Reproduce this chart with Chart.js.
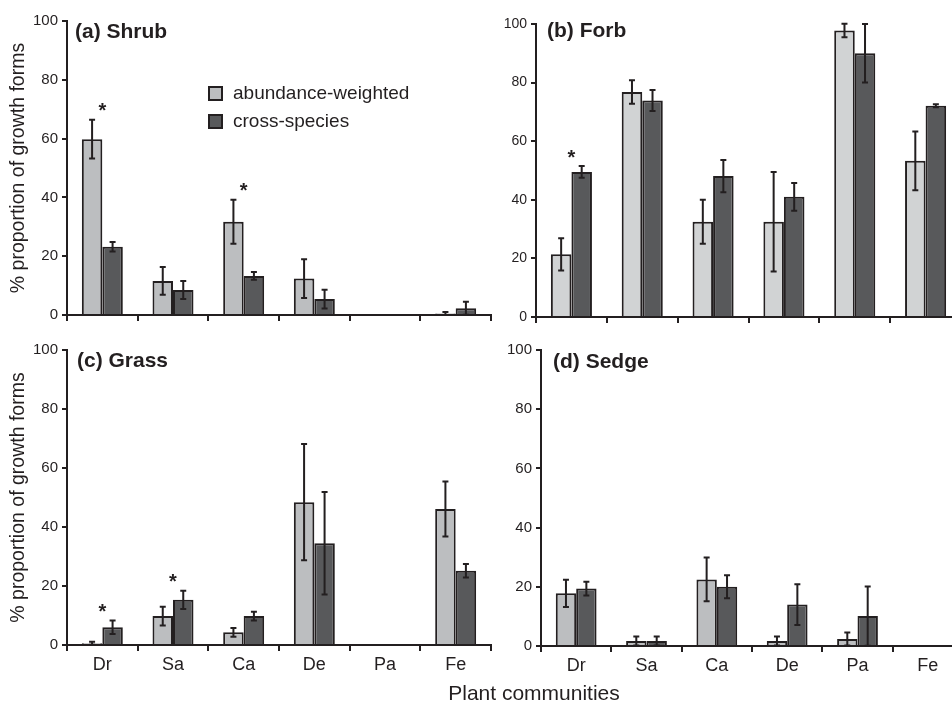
<!DOCTYPE html>
<html>
<head>
<meta charset="utf-8">
<script src="https://cdn.jsdelivr.net/npm/chart.js@4.4.1/dist/chart.umd.min.js"></script>
<style>
    html, body { margin: 0; padding: 0; background: #fff; }
    body { position: relative; width: 952px; height: 704px; overflow: hidden; font-family: "Liberation Sans", Arial, sans-serif; color: #231f20; }
    canvas { position: absolute; }
    .legend { position: absolute; left: 208px; top: 79px; font-size: 19px; }
    .legend div { display: flex; align-items: center; height: 28px; }
    .legend span.box { width: 11px; height: 11px; border: 2px solid #231f20; margin-right: 10px; }
    .xtitle { position: absolute; left: 0; width: 1068px; top: 681px; text-align: center; font-size: 21px; }
</style>
</head>
<body>
<canvas id="shrubChart" width="500" height="340" style="left:0;top:0"></canvas>
<canvas id="forbChart" width="490" height="342" style="left:480px;top:0"></canvas>
<canvas id="grassChart" width="500" height="360" style="left:0;top:330px"></canvas>
<canvas id="sedgeChart" width="492" height="360" style="left:480px;top:330px"></canvas>
<div class="legend" id="legend"></div>
<div class="xtitle">Plant communities</div>

<script>
// Plant communities (x categories)
const communities = ['Dr', 'Sa', 'Ca', 'De', 'Pa', 'Fe'];
const seriesLabels = ['abundance-weighted', 'cross-species'];
const yTicks = [0, 20, 40, 60, 80, 100];

// (a) Shrub
const shrubAbund = [59.8, 11.6, 31.7, 12.4, 0, 0.5];
const shrubAbundErr = [6.6, 4.7, 7.5, 6.6, 0, 0.5];
const shrubCross = [23.2, 8.5, 13.3, 5.4, 0, 2.3];
const shrubCrossErr = [1.6, 3.1, 1.3, 3.2, 0, 2.2];
const shrubSig = [true, false, true, false, false, false];

// (b) Forb
const forbAbund = [21.4, 76.8, 32.5, 32.5, 97.8, 53.3];
const forbAbundErr = [5.5, 4.0, 7.5, 17.0, 2.3, 10.0];
const forbCross = [49.5, 73.9, 48.1, 41.0, 90.0, 72.1];
const forbCrossErr = [2.0, 3.6, 5.5, 4.7, 10.0, 0.5];
const forbSig = [true, false, false, false, false, false];

// (c) Grass
const grassAbund = [0.6, 9.8, 4.3, 48.4, 0, 46.1];
const grassAbundErr = [0.5, 3.2, 1.5, 19.7, 0, 9.3];
const grassCross = [6.0, 15.3, 9.8, 34.5, 0, 25.2];
const grassCrossErr = [2.3, 3.1, 1.5, 17.4, 0, 2.3];
const grassSig = [true, true, false, false, false, false];

// (d) Sedge
const sedgeAbund = [17.8, 1.7, 22.5, 1.7, 2.4, 0];
const sedgeAbundErr = [4.6, 1.5, 7.4, 1.5, 2.2, 0];
const sedgeCross = [19.4, 1.7, 20.0, 14.0, 10.1, 0];
const sedgeCrossErr = [2.3, 1.5, 3.9, 6.9, 10.0, 0];
const sedgeSig = [false, false, false, false, false, false];

const INK = '#231f20';
const LIGHT = '#bcbec0';
const LIGHTER = '#d1d3d4';
const DARK = '#58595b';

Chart.defaults.font.family = '"Liberation Sans", Arial, sans-serif';
Chart.defaults.color = INK;

// error bars, significance stars and the panel caption
const panelExtras = {
    id: 'panelExtras',
    afterDatasetsDraw(chart, args, opts) {
        const ctx = chart.ctx;
        const yScale = chart.scales.y;
        const xScale = chart.scales.x;
        ctx.save();
        ctx.strokeStyle = INK;
        ctx.lineWidth = 2;
        chart.data.datasets.forEach((ds, i) => {
            chart.getDatasetMeta(i).data.forEach((bar, j) => {
                const v = ds.data[j];
                const e = ds.errors[j];
                if (!e) return;
                const top = yScale.getPixelForValue(v + e);
                const bot = yScale.getPixelForValue(Math.max(0, v - e));
                ctx.beginPath();
                ctx.moveTo(bar.x, top); ctx.lineTo(bar.x, bot);
                ctx.moveTo(bar.x - 3, top); ctx.lineTo(bar.x + 3, top);
                ctx.moveTo(bar.x - 3, bot); ctx.lineTo(bar.x + 3, bot);
                ctx.stroke();
            });
        });

        ctx.fillStyle = INK;
        ctx.font = 'bold 20px "Liberation Sans"';
        ctx.textAlign = 'center';
        ctx.textBaseline = 'alphabetic';
        opts.sig.forEach((s, j) => {
            if (!s) return;
            let maxTop = 0;
            chart.data.datasets.forEach(ds => { maxTop = Math.max(maxTop, ds.data[j] + ds.errors[j]); });
            const y = yScale.getPixelForValue(maxTop) - 14;
            ctx.fillText('*', xScale.getPixelForValue(j), y + 0.58 * 20);
        });

        ctx.font = 'bold 21px "Liberation Sans"';
        ctx.textAlign = 'left';
        ctx.textBaseline = 'middle';
        ctx.fillText(opts.title, chart.chartArea.left + opts.titleDx, chart.chartArea.top + opts.titleDy);
        ctx.restore();
    }
};

function makePanel(id, p) {
    const ctx = document.getElementById(id).getContext('2d');
    return new Chart(ctx, {
        type: 'bar',
        data: {
            labels: communities,
            datasets: [{
                label: seriesLabels[0],
                data: p.abund,
                errors: p.abundErr,
                backgroundColor: p.light,
                borderColor: INK,
                borderWidth: 2
            }, {
                label: seriesLabels[1],
                data: p.cross,
                errors: p.crossErr,
                backgroundColor: DARK,
                borderColor: INK,
                borderWidth: 2
            }]
        },
        options: {
            responsive: false,
            animation: false,
            layout: { padding: { top: p.padTop, right: 9, left: 0, bottom: 0 } },
            datasets: { bar: { categoryPercentage: 0.58, barPercentage: 1.0 } },
            plugins: {
                legend: { display: false },
                tooltip: { enabled: false },
                panelExtras: { title: p.title, sig: p.sig, titleDx: p.titleDx, titleDy: p.titleDy }
            },
            scales: {
                x: {
                    afterFit: s => { s.height = p.xHeight; },
                    border: { color: INK, width: 2 },
                    grid: { offset: true, drawOnChartArea: false, tickLength: 6, color: INK, lineWidth: 2 },
                    ticks: { display: p.showX, color: INK, font: { size: 18 }, padding: 3 }
                },
                y: {
                    min: 0,
                    max: 100,
                    afterBuildTicks: s => { s.ticks = yTicks.map(v => ({ value: v })); },
                    afterFit: s => { s.width = p.yWidth; },
                    border: { color: INK, width: 2 },
                    grid: { drawOnChartArea: false, tickLength: 5, color: INK, lineWidth: 2 },
                    ticks: { color: INK, font: { size: p.yFont }, padding: 4 },
                    title: {
                        display: p.showYTitle,
                        text: '% proportion of growth forms',
                        color: INK,
                        font: { size: 19.5, lineHeight: 1 },
                        padding: { top: 9, bottom: 0 }
                    }
                }
            }
        },
        plugins: [panelExtras]
    });
}

makePanel('shrubChart', {
    abund: shrubAbund, abundErr: shrubAbundErr, cross: shrubCross, crossErr: shrubCrossErr,
    sig: shrubSig, title: '(a) Shrub', light: LIGHT, padTop: 21, xHeight: 25, yWidth: 67,
    showX: false, showYTitle: true, yFont: 15, titleDx: 8, titleDy: 11
});
makePanel('forbChart', {
    abund: forbAbund, abundErr: forbAbundErr, cross: forbCross, crossErr: forbCrossErr,
    sig: forbSig, title: '(b) Forb', light: LIGHTER, padTop: 24, xHeight: 25, yWidth: 56,
    showX: false, showYTitle: false, yFont: 14, titleDx: 11, titleDy: 7
});
makePanel('grassChart', {
    abund: grassAbund, abundErr: grassAbundErr, cross: grassCross, crossErr: grassCrossErr,
    sig: grassSig, title: '(c) Grass', light: LIGHT, padTop: 20, xHeight: 45, yWidth: 67,
    showX: true, showYTitle: true, yFont: 15, titleDx: 10, titleDy: 11
});
makePanel('sedgeChart', {
    abund: sedgeAbund, abundErr: sedgeAbundErr, cross: sedgeCross, crossErr: sedgeCrossErr,
    sig: sedgeSig, title: '(d) Sedge', light: LIGHT, padTop: 20, xHeight: 44, yWidth: 61,
    showX: true, showYTitle: false, yFont: 15, titleDx: 12, titleDy: 12
});

// legend inside panel (a)
const legend = document.getElementById('legend');
[LIGHT, DARK].forEach((c, i) => {
    const row = document.createElement('div');
    row.innerHTML = `<span class="box" style="background:${c}"></span>${seriesLabels[i]}`;
    legend.appendChild(row);
});
</script>
</body>
</html>
